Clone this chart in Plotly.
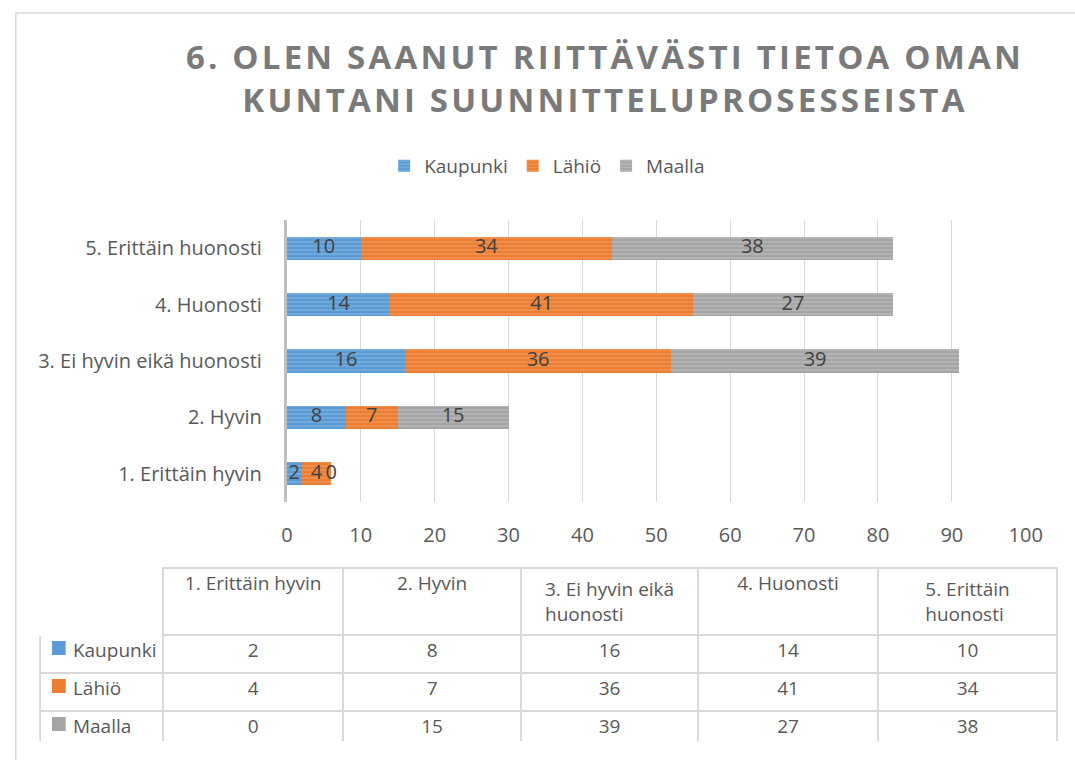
import plotly.graph_objects as go

categories = ["1. Erittäin hyvin", "2. Hyvin", "3. Ei hyvin eikä huonosti", "4. Huonosti", "5. Erittäin huonosti"]
header_labels = ["1. Erittäin hyvin", "2. Hyvin", "3. Ei hyvin eikä<br>huonosti", "4. Huonosti", "5. Erittäin<br>huonosti"]
series_names = ["Kaupunki", "Lähiö", "Maalla"]
kaupunki = [2, 8, 16, 14, 10]
lahio = [4, 7, 36, 41, 34]
maalla = [0, 15, 39, 27, 38]
x_ticks = [0, 10, 20, 30, 40, 50, 60, 70, 80, 90, 100]
title_lines = ["6. OLEN SAANUT RIITTÄVÄSTI TIETOA OMAN", "KUNTANI SUUNNITTELUPROSESSEISTA"]

series_values = [kaupunki, lahio, maalla]
base_colors = ["#5B9BD5", "#ED7D31", "#A5A5A5"]
stripe_colors = ["#9DC3E6", "#F4B183", "#CFCFCF"]

W, H = 1075, 760
FONT = "Open Sans"
TXT = "#595959"

def px_x(p):
    return p / W

def px_y(p):
    return 1 - p / H

fig = go.Figure()

bases = [0] * len(categories)
for name, vals, col, scol in zip(series_names, series_values, base_colors, stripe_colors):
    fig.add_trace(go.Bar(
        name=name, y=categories, x=vals, orientation="h",
        marker=dict(color=col, line=dict(width=0),
                    pattern=dict(shape="-", fgcolor=scol, bgcolor=col, size=4, solidity=0.35)),
        textposition="none", hoverinfo="x+name",
    ))
    centers = [b + v / 2 for b, v in zip(bases, vals)]
    fig.add_trace(go.Scatter(
        y=categories, x=centers, mode="text", text=[str(v) for v in vals],
        textfont=dict(family=FONT, size=20, color="#404040"),
        showlegend=False, hoverinfo="skip",
    ))
    bases = [b + v for b, v in zip(bases, vals)]

# table
tbl_top, hdr_h, row_h = 568, 58, 38
first_col = ["\u00a0\u00a0\u00a0\u00a0\u00a0" + n for n in series_names]
cols = [first_col] + [[str(s[i]) for s in series_values] for i in range(len(categories))]
fig.add_trace(go.Table(
    domain=dict(x=[px_x(35), 1.0], y=[px_y(tbl_top + hdr_h + 3 * row_h + 1), px_y(tbl_top)]),
    columnwidth=[123, 181, 178, 178, 180, 180],
    header=dict(values=[""] + header_labels, height=hdr_h,
                fill_color="white",
                line=dict(color=["white"] + ["#D9D9D9"] * 5, width=2),
                align="center",
                font=dict(family=FONT, size=19, color=TXT)),
    cells=dict(values=cols, height=row_h, fill_color="white",
               line=dict(color="#D9D9D9", width=2),
               align=["left"] + ["center"] * 5,
               font=dict(family=FONT, size=19, color=TXT)),
))

shapes = [dict(type="rect", xref="paper", yref="paper",
               x0=px_x(10), x1=1.02, y0=-0.02, y1=px_y(13),
               line=dict(color="#D9D9D9", width=1.5), fillcolor="rgba(0,0,0,0)", layer="below")]
# legend keys inside the table's first column
for i, col in enumerate(base_colors):
    cy = tbl_top + hdr_h + i * row_h + 22
    shapes.append(dict(type="rect", xref="paper", yref="paper",
                       x0=px_x(47), x1=px_x(61), y0=px_y(cy + 7), y1=px_y(cy - 7),
                       line=dict(width=0), fillcolor=col, layer="above"))

title_text = "<br>".join(f"<span style='letter-spacing:3.2px'>{t}</span>" for t in title_lines)

fig.update_layout(
    width=W, height=H,
    margin=dict(l=0, r=0, t=0, b=0),
    paper_bgcolor="white", plot_bgcolor="white",
    barmode="stack", bargap=0.59,
    font=dict(family=FONT, color=TXT, size=18),
    title=dict(text=title_text, x=605 / W, xanchor="center", y=px_y(69), yanchor="middle",
               font=dict(family=FONT, size=33, color="#7A7A7A", weight="bold")),
    legend=dict(orientation="h", x=553 / W, xanchor="center", y=px_y(166), yanchor="middle",
                font=dict(family=FONT, size=19, color=TXT), traceorder="normal",
                itemwidth=30),
    xaxis=dict(domain=[px_x(287), px_x(1042)], range=[0, 100], tickvals=x_ticks,
               showgrid=True, gridcolor="#D9D9D9", gridwidth=1, zeroline=False,
               showline=False, ticks="", ticklabelstandoff=19,
               tickfont=dict(family=FONT, size=20, color=TXT), fixedrange=True),
    yaxis=dict(domain=[px_y(502), px_y(220)], type="category", categoryorder="array",
               categoryarray=categories, range=[-0.5, 4.5],
               showline=True, linecolor="#BFBFBF", linewidth=3, showgrid=False,
               ticks="", ticklabelstandoff=18,
               tickfont=dict(family=FONT, size=20, color=TXT), fixedrange=True),
    shapes=shapes,
)

fig.write_html("out.html", config={"displayModeBar": False},
               post_script="document.body.style.margin='0';")
